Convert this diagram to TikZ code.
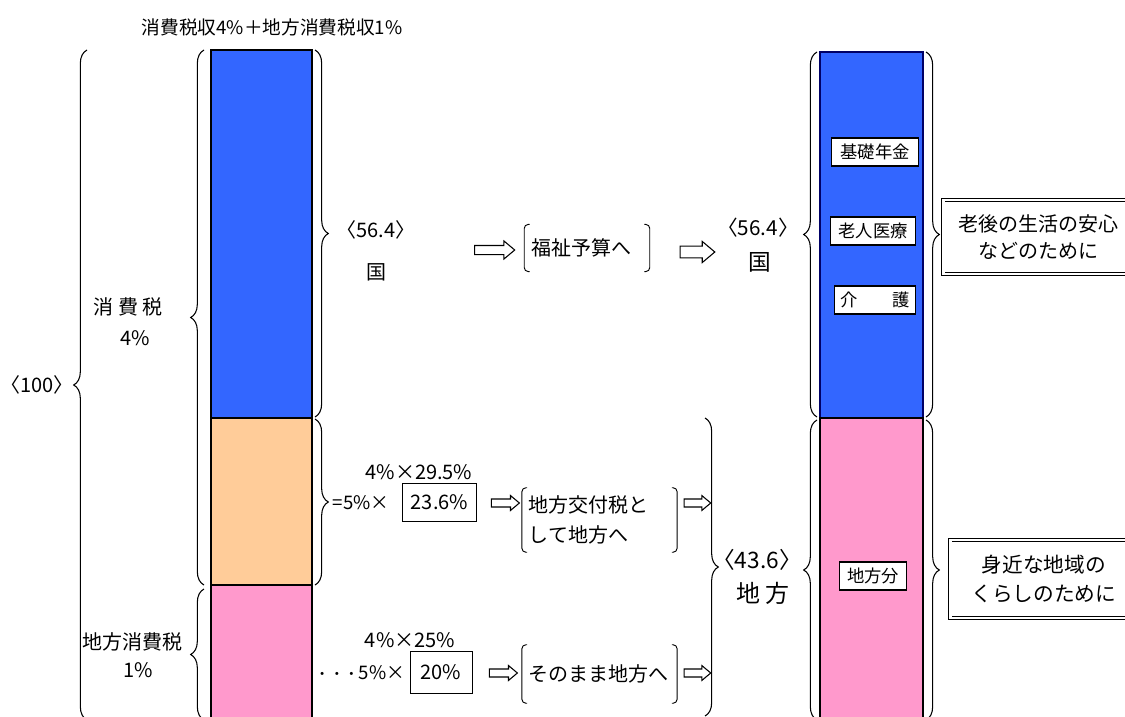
\documentclass[tikz,border=0pt]{standalone}
\usepackage{fontspec}
\setmainfont{Noto Sans CJK JP}
\usetikzlibrary{decorations.pathreplacing,shapes.arrows}

\definecolor{taxblue}{RGB}{51,102,255}
\definecolor{taxpeach}{RGB}{255,204,153}
\definecolor{taxpink}{RGB}{255,153,204}
\definecolor{taxnavy}{RGB}{0,0,102}

\tikzset{
  brc/.style={decorate,decoration={brace,amplitude=10pt},line width=0.8pt},
  hollow/.style={single arrow,draw,line width=0.8pt,fill=white,inner xsep=0pt,inner ysep=2.6pt,single arrow head extend=2.6pt,single arrow tip angle=80,minimum height=#1},
  hollow/.default=28pt,
  tag/.style={draw,fill=white,line width=0.8pt,inner sep=0pt,minimum height=21pt,font=\fontsize{13}{15}\selectfont},
  rate/.style={draw,line width=0.7pt,inner sep=0pt,font=\fontsize{15}{17}\selectfont},
  note/.style={draw,double,double distance=1.6pt,line width=0.7pt,fill=white,align=center,inner sep=0pt,font=\fontsize{15}{20}\selectfont},
  lbl/.style={inner sep=0pt,font=\fontsize{15}{18}\selectfont},
  paren/.style={inner xsep=5pt,inner ysep=0pt,align=left,font=\fontsize{15}{23}\selectfont}
}

\begin{document}
\begin{tikzpicture}[x=0.75pt,y=-0.75pt]

\useasboundingbox (0,0) rectangle (1125,717);
\clip (0,0) rectangle (1125,717);

\fill [taxblue] (211,50) rectangle (312,418);
\fill [taxpeach] (211,418) rectangle (312,585);
\fill [taxpink] (211,585) rectangle (312,720);
\draw [line width=0.8pt] (211,585) -- (211,720) (312,585) -- (312,720);
\draw [line width=2pt] (211,50) rectangle (312,585) (211,418) -- (312,418);

\fill [taxblue] (820,52) rectangle (923,418);
\fill [taxpink] (820,418) rectangle (923,720);
\draw [taxnavy,line width=1pt] (820,418) -- (820,52) -- (923,52) -- (923,418);
\draw [line width=1pt] (820,720) -- (820,418) -- (923,418) -- (923,720);

\draw [brc] (87,720) -- (87,50);
\draw [brc] (204,585) -- (204,50);
\draw [brc] (204,720) -- (204,589);
\draw [brc] (315,50) -- (315,417);
\draw [brc] (315,419) -- (315,585);
\draw [brc] (705,418) -- (705,716);
\draw [brc] (817,417) -- (817,52);
\draw [brc] (817,720) -- (817,420);
\draw [brc] (926,52) -- (926,417);
\draw [brc] (926,420) -- (926,720);

\node (title) [lbl,font=\fontsize{14}{16}\selectfont] at (272,27) {消費税収4\%＋地方消費税収1\%};
\node (total) [lbl] at (37,385) {〈100〉};
\node (kokuzei) [lbl] at (128,307) {消 費 税};
\node (kokurate) [lbl] at (135,338) {4\%};
\node (chihozei) [lbl] at (132,642) {地方消費税};
\node (chihorate) [lbl] at (138,670) {1\%};

\node (share) [lbl] at (376,230) {〈56.4〉};
\node (kuni) [lbl] at (376,272) {国};
\node (to1) [hollow=30pt,inner ysep=3pt,single arrow head extend=3.4pt] at (492,250) {};
\node (welfare) [paren,text width=83.75pt,minimum height=35pt] at (587,248) {福祉予算へ};
\node (to2) [hollow=26pt,inner ysep=4pt,single arrow head extend=3.5pt] at (694,252) {};
\node (share2) [lbl,font=\fontsize{15.5}{18}\selectfont] at (758,228) {〈56.4〉};
\node (kuni2) [lbl,font=\fontsize{17}{20}\selectfont] at (760,262) {国};

\node (calc1) [lbl] at (419,472) {4\%×29.5\%};
\node (calc1b) [lbl,font=\fontsize{14}{16}\selectfont] at (361,503) {=5\%×};
\node (grant) [rate,minimum width=56pt,minimum height=28.5pt] at (439.5,502) {23.6\%};
\node (to3) [hollow=21pt] at (503,503) {};
\node (kofu) [paren,text width=106pt,minimum height=48pt] at (599.5,520) {地方交付税と\\して地方へ};
\node (to4) [hollow=20pt] at (695,503) {};

\node (calc2) [lbl] at (410,640) {4\%×25\%};
\node (calc2b) [lbl,font=\fontsize{14}{16}\selectfont] at (360,673) {{\fontsize{11}{13}\selectfont ・・・}5\%×};
\node (direct) [rate,minimum width=46.5pt,minimum height=31pt] at (441,672.5) {20\%};
\node (to5) [hollow=21pt] at (501,673) {};
\node (sonomama) [paren,text width=106pt,minimum height=43.5pt] at (599.5,674) {そのまま地方へ};
\node (to6) [hollow=20pt] at (695,673) {};

\node (share3) [lbl,font=\fontsize{17}{19}\selectfont] at (757,560) {〈43.6〉};
\node (chihou) [lbl,font=\fontsize{18}{20}\selectfont] at (763,593) {地 方};

\foreach \n in {welfare,kofu,sonomama} {
  \draw [line width=0.7pt,rounded corners=3pt] ([xshift=4pt]\n.north west) -- (\n.north west) -- (\n.south west) -- ([xshift=4pt]\n.south west);
  \draw [line width=0.7pt,rounded corners=3pt] ([xshift=-4pt]\n.north east) -- (\n.north east) -- (\n.south east) -- ([xshift=-4pt]\n.south east);
}

\node (kiso) [tag,minimum width=65pt] at (875,152) {基礎年金};
\node (rojin) [tag,minimum width=64pt] at (873,231) {老人医療};
\node (kaigo) [tag,minimum width=61pt] at (875,300) {介　　護};
\node (chiho) [tag,minimum width=50pt] at (873,576) {地方分};

\node (anshin) [note,minimum width=142pt,minimum height=56pt,anchor=west] at (943,237) {老後の生活の安心\\などのために};
\node (kurashi) [note,font=\fontsize{15.5}{22}\selectfont,minimum width=140pt,minimum height=58pt,anchor=west] at (950,579) {身近な地域の\\くらしのために};

\end{tikzpicture}
\end{document}
